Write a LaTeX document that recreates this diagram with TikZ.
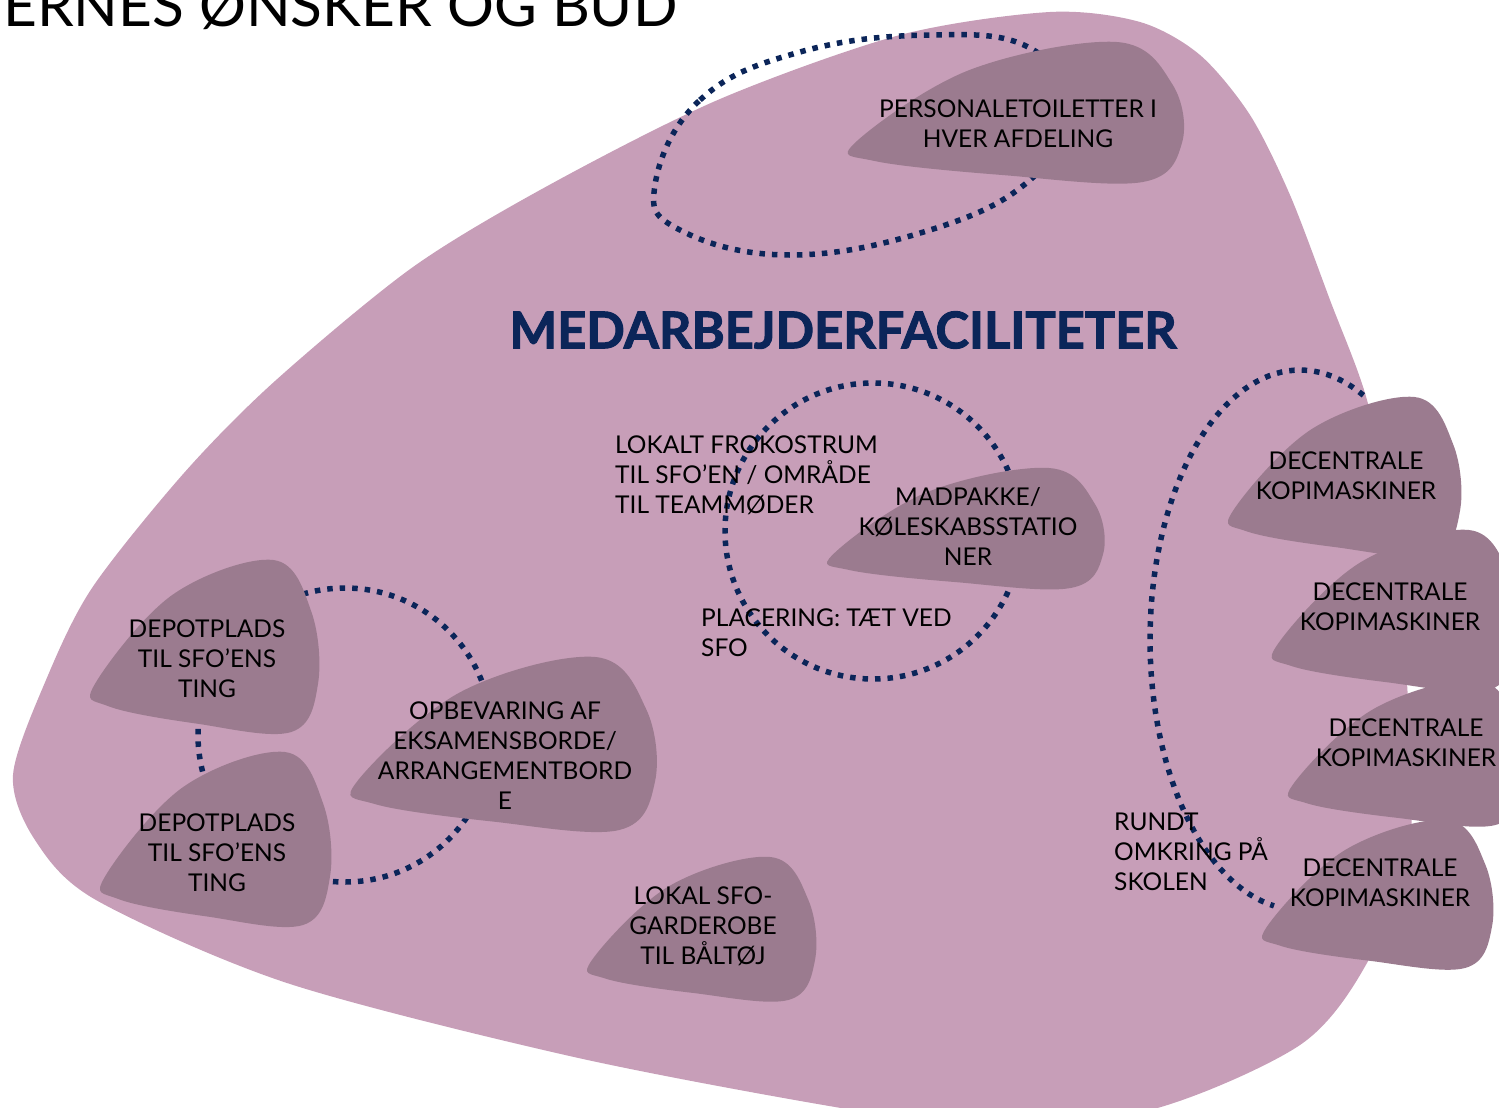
\documentclass[tikz,border=0pt]{standalone}
\usepackage{fontspec}
\setmainfont{Lato}
\newfontfamily\titlefont{Lato}[BoldFeatures={FakeBold=2}]
\usepackage{graphicx}
\definecolor{bigb}{HTML}{C79EB8}
\definecolor{smallb}{HTML}{9B7B8F}
\definecolor{navy}{HTML}{0B2559}
\tikzset{
  dots/.style={draw=navy, line width=5.5pt, dash pattern=on 5.5pt off 7pt},
  lbl/.style={align=center, font=\fontsize{24.5}{30}\selectfont, text=black, inner sep=0pt},
  free/.style={align=left, anchor=north west, font=\fontsize{24.5}{30}\selectfont, text=black, inner sep=0pt},
}
\newcommand\blobat[4]{%
  \begin{scope}[shift={(#1,#2)},xscale=#3,yscale=#4]
    \fill[smallb] plot[smooth cycle,tension=0.6] coordinates {(0,0.72) (0.35,0.2) (0.8,0) (0.97,0.3) (1,0.72) (0.88,1) (0.45,0.95) (0.06,0.85)};
  \end{scope}}
\begin{document}
\begin{tikzpicture}[x=1pt,y=-1pt]
\useasboundingbox (0,0) rectangle (1499,1108);
% big blob
\fill[bigb] plot[smooth cycle,tension=0.5] coordinates {(13,775) (46,680) (92,588) (184,473) (275,381) (413,267) (551,184) (720,99) (900,35) (1050,12) (1140,22) (1200,55) (1250,115) (1290,195) (1330,300) (1367,400) (1390,520) (1405,650) (1410,850) (1367,963) (1300,1045) (1150,1110) (980,1125) (841,1108) (574,1057) (287,983) (96,900) (35,840)};
% dotted rings
\draw[dots] plot[smooth cycle,tension=0.7] coordinates {(655,185) (700,100) (800,52) (930,35) (1030,48) (1070,110) (1030,180) (930,230) (790,255) (680,230)};
\draw[dots] (873,531) circle[radius=148];
\draw[dots] (345,735) circle[radius=147];
\draw[dots] plot[domain=65:260,samples=80] ({1300+150*cos(\x)},{640-270*sin(\x)});
% small blobs
\blobat{855}{42}{327}{140}
\blobat{833}{468}{270}{120}
\blobat{1233}{397}{227}{158}
\blobat{1277}{530}{240}{160}
\blobat{1293}{680}{230}{145}
\blobat{1267}{820}{225}{148}
\blobat{95}{560}{223}{172}
\blobat{105}{752}{225}{173}
\blobat{357}{657}{298}{173}
\blobat{592}{857}{223}{143}
% texts
\node[anchor=base west,inner sep=0pt] (head) at (3,27) {\resizebox{674pt}{!}{\fontsize{55}{60}\selectfont ERNES ØNSKER OG BUD}};
\node[inner sep=0pt,text=navy] (title) at (843,330) {\resizebox{667pt}{!}{\fontsize{50}{60}\selectfont\titlefont\bfseries MEDARBEJDERFACILITETER}};
\node[lbl] (n1) at (1018,124) {PERSONALETOILETTER I\\HVER AFDELING};
\node[lbl] (n2) at (968,526) {MADPAKKE/\\KØLESKABSSTATIO\\NER};
\node[lbl] (n3) at (1346,476) {DECENTRALE\\KOPIMASKINER};
\node[lbl] (n4) at (1390,607) {DECENTRALE\\KOPIMASKINER};
\node[lbl] (n5) at (1406,743) {DECENTRALE\\KOPIMASKINER};
\node[lbl] (n6) at (1380,883) {DECENTRALE\\KOPIMASKINER};
\node[lbl] (n7) at (207,659) {DEPOTPLADS\\TIL SFO’ENS\\TING};
\node[lbl] (n8) at (217,853) {DEPOTPLADS\\TIL SFO’ENS\\TING};
\node[lbl] (n9) at (505,756) {OPBEVARING AF\\EKSAMENSBORDE/\\ARRANGEMENTBORD\\E};
\node[lbl] (n10) at (703,926) {LOKAL SFO-\\GARDEROBE\\TIL BÅLTØJ};
\node[free] (f1) at (615,436) {LOKALT FROKOSTRUM\\TIL SFO’EN / OMRÅDE\\TIL TEAMMØDER};
\node[free] (f2) at (701,609) {PLACERING: TÆT VED\\SFO};
\node[free] (f3) at (1114,813) {RUNDT\\OMKRING PÅ\\SKOLEN};
\end{tikzpicture}
\end{document}
